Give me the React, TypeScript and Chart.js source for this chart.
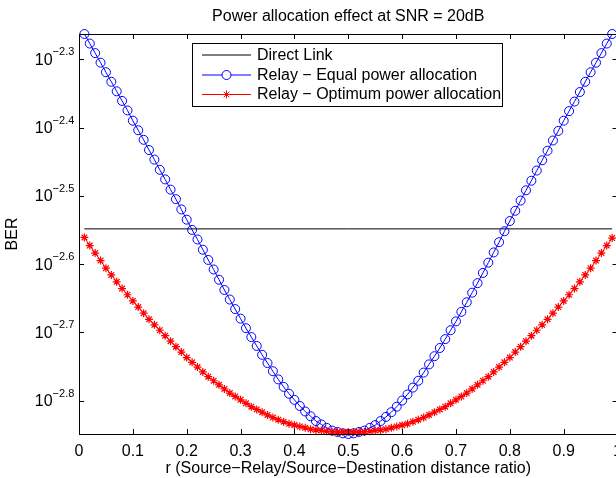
import React, { useEffect, useRef } from 'react';
import { Chart, registerables } from 'chart.js';

Chart.register(...registerables);

// r values (Source-Relay / Source-Destination distance ratio)
const R = [
  0.01, 0.02, 0.03, 0.04, 0.05, 0.06, 0.07, 0.08, 0.09, 0.10,
  0.11, 0.12, 0.13, 0.14, 0.15, 0.16, 0.17, 0.18, 0.19, 0.20,
  0.21, 0.22, 0.23, 0.24, 0.25, 0.26, 0.27, 0.28, 0.29, 0.30,
  0.31, 0.32, 0.33, 0.34, 0.35, 0.36, 0.37, 0.38, 0.39, 0.40,
  0.41, 0.42, 0.43, 0.44, 0.45, 0.46, 0.47, 0.48, 0.49, 0.50,
  0.51, 0.52, 0.53, 0.54, 0.55, 0.56, 0.57, 0.58, 0.59, 0.60,
  0.61, 0.62, 0.63, 0.64, 0.65, 0.66, 0.67, 0.68, 0.69, 0.70,
  0.71, 0.72, 0.73, 0.74, 0.75, 0.76, 0.77, 0.78, 0.79, 0.80,
  0.81, 0.82, 0.83, 0.84, 0.85, 0.86, 0.87, 0.88, 0.89, 0.90,
  0.91, 0.92, 0.93, 0.94, 0.95, 0.96, 0.97, 0.98, 0.99,
];

// log10(BER) values
const DIRECT_LOG10_BER = -2.5485;

const EQUAL_LOG10_BER = [
  -2.263, -2.277, -2.291, -2.305, -2.319, -2.333, -2.347, -2.361, -2.375, -2.390,
  -2.404, -2.418, -2.433, -2.447, -2.462, -2.476, -2.491, -2.505, -2.520, -2.535,
  -2.550, -2.564, -2.579, -2.594, -2.608, -2.623, -2.638, -2.652, -2.666, -2.680,
  -2.694, -2.707, -2.720, -2.733, -2.745, -2.757, -2.769, -2.780, -2.790, -2.799,
  -2.808, -2.816, -2.823, -2.830, -2.835, -2.840, -2.844, -2.846, -2.848, -2.849,
  -2.848, -2.846, -2.844, -2.840, -2.836, -2.830, -2.824, -2.817, -2.809, -2.800,
  -2.791, -2.781, -2.771, -2.759, -2.747, -2.735, -2.723, -2.710, -2.697, -2.684,
  -2.670, -2.656, -2.642, -2.628, -2.613, -2.598, -2.583, -2.568, -2.552, -2.537,
  -2.522, -2.507, -2.492, -2.478, -2.463, -2.448, -2.434, -2.419, -2.405, -2.390,
  -2.376, -2.362, -2.348, -2.333, -2.319, -2.305, -2.291, -2.277, -2.263,
];

const OPTIMUM_LOG10_BER = [
  -2.561, -2.573, -2.584, -2.595, -2.606, -2.616, -2.626, -2.636, -2.645, -2.654,
  -2.663, -2.672, -2.681, -2.689, -2.697, -2.705, -2.713, -2.721, -2.729, -2.737,
  -2.744, -2.751, -2.758, -2.765, -2.771, -2.777, -2.783, -2.789, -2.794, -2.799,
  -2.804, -2.809, -2.813, -2.817, -2.821, -2.825, -2.828, -2.831, -2.834, -2.836,
  -2.838, -2.840, -2.842, -2.843, -2.844, -2.845, -2.846, -2.846, -2.846, -2.846,
  -2.846, -2.846, -2.846, -2.845, -2.844, -2.843, -2.842, -2.840, -2.838, -2.836,
  -2.834, -2.831, -2.828, -2.825, -2.821, -2.817, -2.813, -2.809, -2.804, -2.799,
  -2.794, -2.789, -2.783, -2.777, -2.771, -2.765, -2.758, -2.751, -2.744, -2.737,
  -2.729, -2.721, -2.713, -2.705, -2.697, -2.689, -2.681, -2.672, -2.663, -2.654,
  -2.645, -2.636, -2.626, -2.616, -2.606, -2.595, -2.584, -2.573, -2.562,
];

const X_TICKS = [0, 0.1, 0.2, 0.3, 0.4, 0.5, 0.6, 0.7, 0.8, 0.9, 1];
const X_TICK_LABELS = ['0', '0.1', '0.2', '0.3', '0.4', '0.5', '0.6', '0.7', '0.8', '0.9', '1'];
const Y_TICK_EXPONENTS = [-2.3, -2.4, -2.5, -2.6, -2.7, -2.8];
const Y_TICK_SUPERSCRIPTS = ['−2.3', '−2.4', '−2.5', '−2.6', '−2.7', '−2.8'];
const Y_RANGE_EXPONENTS = [-2.849, -2.263];

const LEGEND_LABELS = [
  'Direct Link',
  'Relay − Equal power allocation',
  'Relay − Optimum power allocation',
];
const SERIES_COLORS = ['#000000', '#0000ff', '#ff0000'];

const TITLE = 'Power allocation effect at SNR = 20dB';
const X_TITLE = 'r (Source−Relay/Source−Destination distance ratio)';
const Y_TITLE = 'BER';

const FONT_FAMILY = "'Liberation Sans', Arial, Helvetica, sans-serif";

function drawStar(ctx: CanvasRenderingContext2D, x: number, y: number, r: number) {
  ctx.beginPath();
  ctx.moveTo(x - r, y);
  ctx.lineTo(x + r, y);
  ctx.moveTo(x, y - r);
  ctx.lineTo(x, y + r);
  const d = r * Math.SQRT1_2;
  ctx.moveTo(x - d, y - d);
  ctx.lineTo(x + d, y + d);
  ctx.moveTo(x - d, y + d);
  ctx.lineTo(x + d, y - d);
  ctx.stroke();
}

const matlabFrame = {
  id: 'matlabFrame',
  afterDatasetsDraw(chart: any) {
    const { ctx, chartArea } = chart;
    const xs = chart.scales.x;
    const ys = chart.scales.y;
    const { left, right, top, bottom } = chartArea;
    const tick = 5;
    ctx.save();
    ctx.strokeStyle = '#000';
    ctx.lineWidth = 1;
    // box
    ctx.strokeRect(Math.round(left) + 0.5, Math.round(top) + 0.5, Math.round(right - left), Math.round(bottom - top));
    // inward ticks on all four sides
    ctx.beginPath();
    X_TICKS.forEach((v) => {
      const px = Math.round(xs.getPixelForValue(v)) + 0.5;
      ctx.moveTo(px, bottom);
      ctx.lineTo(px, bottom - tick);
      ctx.moveTo(px, top);
      ctx.lineTo(px, top + tick);
    });
    Y_TICK_EXPONENTS.forEach((e) => {
      const py = Math.round(ys.getPixelForValue(Math.pow(10, e))) + 0.5;
      ctx.moveTo(left, py);
      ctx.lineTo(left + tick, py);
      ctx.moveTo(right, py);
      ctx.lineTo(right - tick, py);
    });
    ctx.stroke();

    // y tick labels with superscript exponents
    ctx.fillStyle = '#000';
    ctx.textBaseline = 'alphabetic';
    const labelRight = left - 4.7;
    Y_TICK_EXPONENTS.forEach((e, i) => {
      const py = ys.getPixelForValue(Math.pow(10, e));
      const sup = Y_TICK_SUPERSCRIPTS[i];
      ctx.font = `11px ${FONT_FAMILY}`;
      const sw = ctx.measureText(sup).width;
      ctx.textAlign = 'left';
      ctx.fillText(sup, labelRight - sw, py - 4);
      ctx.font = `16px ${FONT_FAMILY}`;
      ctx.textAlign = 'right';
      ctx.fillText('10', labelRight - sw, py + 5.5);
    });

    // legend
    const bx = 192.5, by = 43.5, bw = 310, bh = 63;
    ctx.fillStyle = '#fff';
    ctx.fillRect(bx, by, bw, bh);
    ctx.strokeStyle = '#000';
    ctx.strokeRect(bx, by, bw, bh);
    const rows = [55, 75, 94.5];
    rows.forEach((ry, i) => {
      ctx.strokeStyle = SERIES_COLORS[i];
      ctx.lineWidth = 1;
      ctx.beginPath();
      ctx.moveTo(202, ry);
      ctx.lineTo(251, ry);
      ctx.stroke();
      if (i === 1) {
        ctx.beginPath();
        ctx.fillStyle = '#fff';
        ctx.arc(226.5, ry, 4.5, 0, Math.PI * 2);
        ctx.fill();
        ctx.stroke();
      } else if (i === 2) {
        drawStar(ctx, 226.5, ry, 4);
      }
      ctx.fillStyle = '#000';
      ctx.font = `16px ${FONT_FAMILY}`;
      ctx.textAlign = 'left';
      ctx.textBaseline = 'middle';
      ctx.fillText(LEGEND_LABELS[i], 257, ry + 0.5);
    });
    ctx.restore();
  },
};

export default function App() {
  const ref = useRef<HTMLCanvasElement | null>(null);

  useEffect(() => {
    if (!ref.current) return;
    Chart.defaults.font.family = FONT_FAMILY;
    Chart.defaults.font.size = 16;
    Chart.defaults.color = '#000';

    const toPoints = (vals: number[]) => R.map((r, i) => ({ x: r, y: Math.pow(10, vals[i]) }));

    const chart = new Chart(ref.current, {
      type: 'line',
      data: {
        datasets: [
          {
            label: LEGEND_LABELS[2],
            data: toPoints(OPTIMUM_LOG10_BER),
            borderColor: SERIES_COLORS[2],
            backgroundColor: SERIES_COLORS[2],
            borderWidth: 1,
            pointStyle: 'star',
            pointRadius: 4,
            pointBorderWidth: 1.2,
            pointBorderColor: SERIES_COLORS[2],
            tension: 0,
            order: 0,
            clip: false,
          },
          {
            label: LEGEND_LABELS[1],
            data: toPoints(EQUAL_LOG10_BER),
            borderColor: SERIES_COLORS[1],
            backgroundColor: 'rgba(0,0,0,0)',
            borderWidth: 1,
            pointStyle: 'circle',
            pointRadius: 4.5,
            pointBorderWidth: 1,
            pointBorderColor: SERIES_COLORS[1],
            pointBackgroundColor: 'rgba(0,0,0,0)',
            tension: 0,
            order: 1,
            clip: false,
          },
          {
            label: LEGEND_LABELS[0],
            data: [
              { x: R[0], y: Math.pow(10, DIRECT_LOG10_BER) },
              { x: R[R.length - 1], y: Math.pow(10, DIRECT_LOG10_BER) },
            ],
            borderColor: SERIES_COLORS[0],
            borderWidth: 1,
            pointRadius: 0,
            tension: 0,
            order: 2,
          },
        ],
      } as any,
      options: {
        animation: false,
        responsive: false,
        maintainAspectRatio: false,
        layout: { padding: { left: 0, right: 12, top: 0, bottom: 0 } },
        plugins: {
          legend: { display: false },
          tooltip: { enabled: false },
          title: {
            display: true,
            text: TITLE,
            fullSize: false,
            color: '#000',
            font: { size: 16, weight: 'normal' },
            padding: { top: 7, bottom: 7.8 },
          },
        },
        scales: {
          x: {
            type: 'linear',
            min: 0,
            max: 1,
            afterBuildTicks: (s: any) => {
              s.ticks = X_TICKS.map((v) => ({ value: v }));
            },
            afterFit: (s: any) => {
              s.height = 44;
            },
            ticks: {
              callback: (_v: any, i: number) => X_TICK_LABELS[i],
              color: '#000',
              font: { size: 16 },
              padding: 8,
              maxRotation: 0,
              autoSkip: false,
            },
            grid: { display: false, drawTicks: false },
            border: { display: false },
            title: {
              display: true,
              text: X_TITLE,
              color: '#000',
              font: { size: 16 },
              padding: { top: 0, bottom: 0 },
            },
          },
          y: {
            type: 'logarithmic',
            min: Math.pow(10, Y_RANGE_EXPONENTS[0]),
            max: Math.pow(10, Y_RANGE_EXPONENTS[1]),
            afterBuildTicks: (s: any) => {
              s.ticks = Y_TICK_EXPONENTS.map((e) => ({ value: Math.pow(10, e) }));
            },
            afterFit: (s: any) => {
              s.width = 79;
            },
            ticks: { display: false },
            grid: { display: false, drawTicks: false },
            border: { display: false },
            title: {
              display: true,
              text: Y_TITLE,
              color: '#000',
              font: { size: 16 },
              padding: { top: 3.4, bottom: 0 },
            },
          },
        },
      } as any,
      plugins: [matlabFrame],
    });
    return () => chart.destroy();
  }, []);

  return (
    <div
      style={{
        position: 'fixed',
        left: 0,
        top: 0,
        width: 616,
        height: 478,
        overflow: 'hidden',
        background: '#fff',
      }}
    >
      <canvas ref={ref} width={630} height={478} style={{ display: 'block' }} />
    </div>
  );
}
